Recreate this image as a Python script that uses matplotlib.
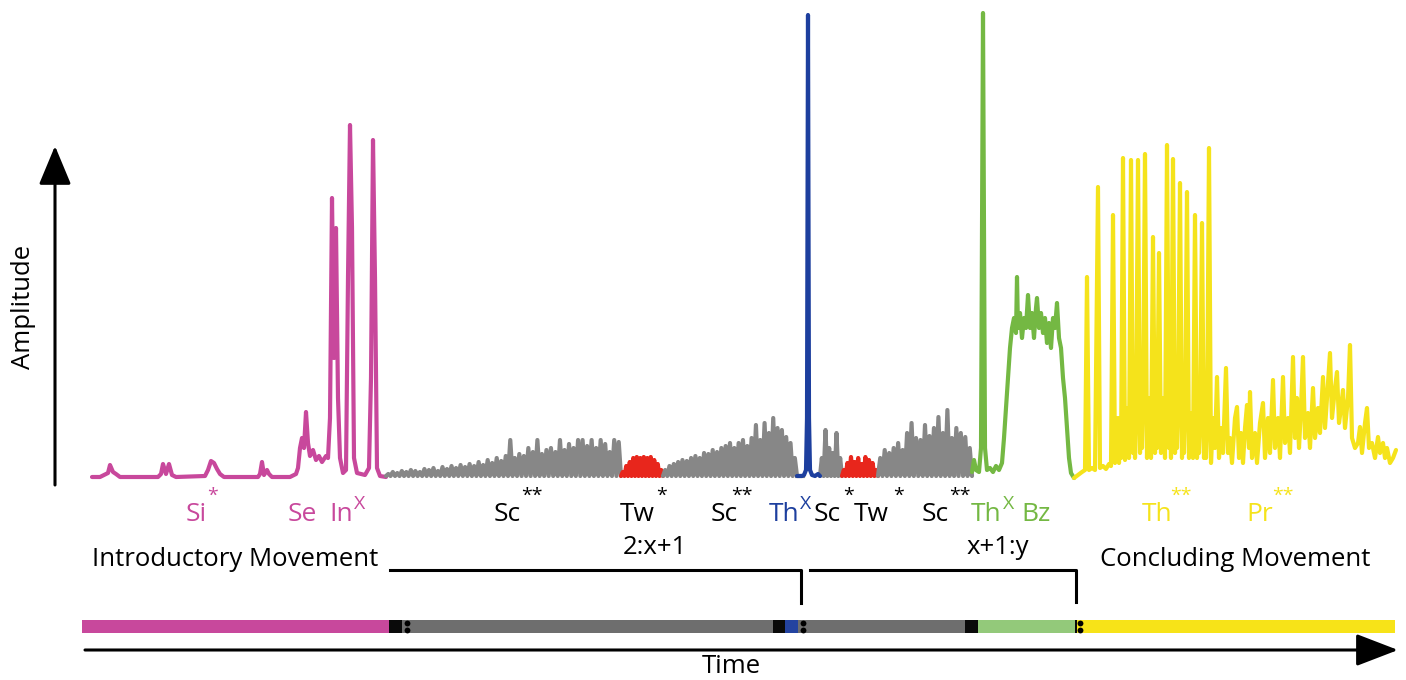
import numpy as np
import matplotlib
matplotlib.use("Agg")
import matplotlib.pyplot as plt

plt.rcParams['font.family'] = ['Open Sans', 'DejaVu Sans']

# ---------------- data (time in px-like units, amplitude in px-like units) ----------------
BASE = 478  # pixel row of zero amplitude

# Introductory movement (magenta): keypoints (time, amplitude)
mag_t = [92,100,104,108,110,113,116,120,158,161,163,166,169,172,176,205,208,211,214,217,220,224,
         258,260,262,264,267,269,272,290,296,298,300,302,304,306,308,310,313,316,319,322,326,328,330,
         332,334,336,338,340,343,346,348,350,352,354,357,365,369,371,373,375,377,380,386]
mag_a = [1,1,3,5,13,6,4,1,1,4,14,4,14,3,1,2,8,17,15,9,4,1,
         1,4,16,3,8,4,1,1,4,10,30,40,30,66,35,22,28,18,22,16,22,20,60,
         280,120,250,80,20,5,8,200,353,250,20,5,3,10,100,338,200,10,2,1]

# Scream / twitter sections: peak heights of each oscillation
gray1_peaks = [4,6,5,7,6,8,7,6,9,8,10,7,11,9,12,10,13,11,14,12,16,13,18,15,20,17,22,38,20,24,
               22,30,26,38,24,28,30,26,38,28,34,30,38,38,32,38,30,38,34,26,38,36]
red1_peaks = [6,12,16,20,21,20,21,20,21,18,14,8]
gray2_peaks = [8,12,14,16,18,17,20,22,20,25,24,28,26,30,32,35,30,35,38,32,40,53,38,55,45,60,50,48,41,35,20]
gray3_peaks = [20,48,30,25,45,20]
red2_peaks = [8,15,21,16,20,14,21,18,15,8]
gray4_peaks = [20,28,25,30,35,28,45,55,40,38,53,42,50,61,45,68,40,50,45,41,30]

# Thump (blue)
blue_t = [797,802,804,806,807,808,809,810,812,815,818,820]
blue_a = [2,2,3,8,60,463,60,8,3,2,4,2]

# Thump + buzz (green)
green_t = [972,974,976,979,981,983,985,987,990,993,996,999,1002,1004,1006,1008,1010,1012,1014,1016,1017,
           1018,1020,1022,1024,1026,1028,1030,1032,1034,1036,1037,1039,1041,1043,1045,1047,1049,1051,1053,
           1055,1057,1059,1061,1063,1065,1067,1069,1071,1074]
green_a = [6,18,8,6,30,465,30,8,10,6,12,8,15,40,70,100,130,150,160,145,201,
           150,165,140,160,150,183,150,165,140,170,180,150,165,145,160,135,155,130,160,
           150,175,140,130,100,80,50,20,5,0]

# Concluding movement (yellow)
yel_t = [1074,1078,1082,1085,1087,1089,1092,1095,1098,1100,1103,1106,1109,1111,
         1113,1115,1116,1117,1118,1119,1120,1121,1123,1125,1126,1127,1128,1129,1131,1133,1134,1135,1136,
         1138,1140,1141,1142,1143,1145,1147,1148,1149,1150,1151,1153,1155,1156,1157,1159,1161,1162,1163,
         1164,1165,1167,1169,1170,1171,1173,1175,1176,1177,1178,1180,1182,1183,1184,1185,1187,1189,1190,
         1191,1192,1193,1195,1197,1198,1199,1200,1202,1204,1205,1206,1207,1209,1211,
         1213,1215,1217,1219,1221,1223,1226,1228,1230,1232,1235,1237,1239,1241,1243,1245,1247,
         1249,1250,1252,1255,1257,1260,1263,1265,1268,1270,1273,1275,1278,1280,1283,1285,1288,1290,1293,1295,
         1297,1299,1301,1303,1305,1308,1310,1313,1315,1318,1320,1323,1325,1327,1330,1332,1335,1337,1339,1341,
         1343,1345,1348,1350,1352,1355,1358,1360,1362,1365,1367,1369,1372,1375,1378,1380,1383,1385,1387,1390,
         1393,1396]
yel_a = [0,3,6,8,201,8,10,8,291,10,12,9,14,12,
         263,15,45,20,60,15,50,20,320,18,60,25,70,20,318,25,65,20,55,
         318,25,75,30,70,324,20,70,25,80,20,241,25,70,30,225,25,80,30,
         75,20,333,30,70,20,319,25,75,30,65,295,20,70,25,60,286,20,65,
         25,55,20,263,20,60,25,50,255,20,55,20,45,330,15,
         60,30,101,20,50,25,110,25,40,15,60,71,20,45,15,50,73,
         30,86,20,45,15,55,75,20,60,25,98,30,60,20,101,35,60,25,121,40,
         80,30,70,121,40,65,30,90,40,70,45,101,50,80,125,60,90,106,55,70,
         88,50,80,133,40,30,35,51,25,55,70,30,35,20,41,25,35,20,30,15,
         20,28]

# Segment boundaries of the oscillating sections
osc_segments = [  # (start, end, peaks, colour)
    (386, 621, gray1_peaks, '#878787'),
    (621, 663, red1_peaks, '#e8261c'),
    (663, 797, gray2_peaks, '#878787'),
    (820, 842, gray3_peaks, '#878787'),
    (842, 878, red2_peaks, '#e8261c'),
    (878, 972, gray4_peaks, '#878787'),
]

# Bottom phrase bar: (start, end, colour)
bar_start = [82, 389, 402, 773, 785, 798, 965, 978, 1075, 1077]
bar_end   = [389, 402, 773, 785, 798, 965, 978, 1075, 1077, 1395]
bar_color = ['#c8489c', '#0a0a0a', '#6e6e6e', '#0a0a0a', '#2443a0', '#6e6e6e', '#0a0a0a',
             '#93c97a', '#0a0a0a', '#f7e318']
dot_t = [407, 803, 1080]

MAG = '#c8489c'
BLUE = '#1d3f9e'
GREEN = '#74b843'
YEL = '#f5e31b'

# ---------------- figure ----------------
fig = plt.figure(figsize=(14.06, 6.8), dpi=100)
ax = fig.add_axes([0, 0, 1, 1])
ax.set_xlim(0, 1406)
ax.set_ylim(BASE - 680, BASE)
ax.axis('off')

def Y(ypix):
    return BASE - ypix

LW = 3.0
kw = dict(solid_capstyle='round', solid_joinstyle='round')

ax.plot(mag_t, mag_a, color=MAG, lw=LW, **kw)

for (t0, t1, peaks, col) in osc_segments:
    n = len(peaks)
    step = (t1 - t0) / n
    tt = [t0]
    aa = [2]
    for i, p in enumerate(peaks):
        tt += [t0 + (i + 0.5) * step, t0 + (i + 1) * step]
        aa += [p, 2]
    ax.plot(tt, aa, color=col, lw=LW, **kw)

ax.plot([797, 803], [2, 2], color='#878787', lw=LW)
ax.plot(blue_t, blue_a, color=BLUE, lw=LW, **kw)
ax.plot(green_t, green_a, color=GREEN, lw=LW, **kw)
ax.plot(yel_t, yel_a, color=YEL, lw=LW, **kw)

# ---------------- amplitude arrow ----------------
ax.annotate('', xy=(55, Y(146)), xytext=(55, Y(485)),
            arrowprops=dict(arrowstyle='-|>,head_length=0.6,head_width=0.25', lw=2.2,
                            color='black', mutation_scale=40, shrinkA=0, shrinkB=0))
ax.text(24, Y(307), 'Amplitude', rotation=90, ha='center', va='center', fontsize=18.5)

# ---------------- labels ----------------
FS = 18.5
LFS = 19
SFS = 14
lab_y = Y(521)

def lab(x, s, col, sup=None, supx=None, sup_kind='star'):
    ax.text(x, lab_y, s, color=col, fontsize=LFS, ha='left', va='baseline')
    if sup:
        if sup_kind == 'x':
            ax.text(supx, Y(509), sup, color=col, fontsize=SFS, ha='left', va='baseline')
        else:
            ax.text(supx, Y(487), sup, color=col, fontsize=SFS, ha='left', va='top')

lab(186, 'Si', MAG, '*', 207)
lab(288, 'Se', MAG)
lab(329, 'In', MAG, 'X', 354, 'x')
lab(494, 'Sc', 'black', '**', 521)
lab(620, 'Tw', 'black', '*', 656)
lab(711, 'Sc', 'black', '**', 731)
lab(769, 'Th', BLUE, 'X', 800, 'x')
lab(814, 'Sc', 'black', '*', 843)
lab(854, 'Tw', 'black', '*', 893)
lab(922, 'Sc', 'black', '**', 949)
lab(971, 'Th', GREEN, 'X', 1003, 'x')
lab(1021, 'Bz', GREEN)
lab(1142, 'Th', YEL, '**', 1170)
lab(1246, 'Pr', YEL, '**', 1272)

ax.text(92, Y(566), 'Introductory Movement', fontsize=FS, ha='left', va='baseline')
ax.text(655, Y(554), '2:x+1', fontsize=FS, ha='center', va='baseline')
ax.text(998, Y(554), 'x+1:y', fontsize=FS, ha='center', va='baseline')
ax.text(1100, Y(566), 'Concluding Movement', fontsize=FS, ha='left', va='baseline')

# ---------------- brackets ----------------
ax.plot([390, 801, 801], [Y(570), Y(570), Y(603)], color='black', lw=2.2)
ax.plot([810, 1076, 1076], [Y(570), Y(570), Y(602)], color='black', lw=2.2)

# ---------------- phrase bar ----------------
ax.barh(Y(626.5), np.array(bar_end) - np.array(bar_start), left=bar_start, height=13,
        color=bar_color, edgecolor='none')
for t in dot_t:
    ax.plot([t, t], [Y(623), Y(630)], 'o', color='black', markersize=4.2, markeredgewidth=0)

# ---------------- time arrow ----------------
ax.annotate('', xy=(1398, Y(650)), xytext=(85, Y(650)),
            arrowprops=dict(arrowstyle='-|>,head_length=0.65,head_width=0.25', lw=2.2,
                            color='black', mutation_scale=40, shrinkA=0, shrinkB=0))
ax.text(731, Y(673), 'Time', fontsize=FS, ha='center', va='baseline')

fig.savefig('out.png', dpi=100, facecolor='white')
